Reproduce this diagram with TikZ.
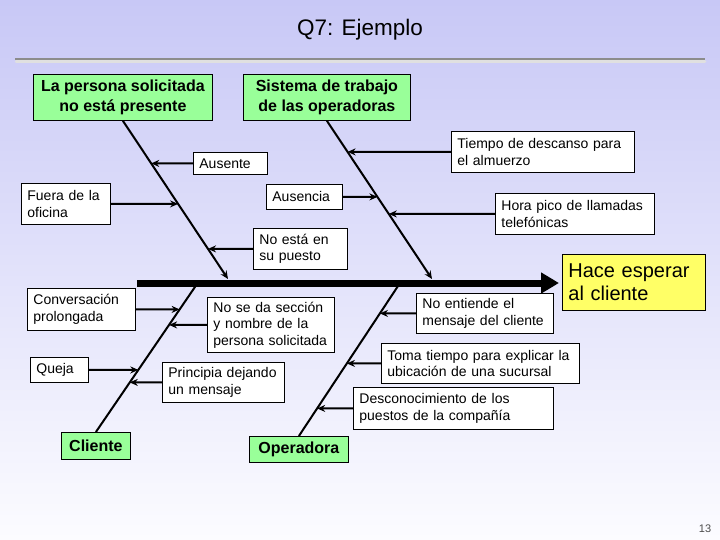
\documentclass[tikz,border=0pt]{standalone}
\usepackage{fontspec}
\setmainfont{Liberation Sans}
\usetikzlibrary{arrows.meta,calc}
\definecolor{bgtop}{RGB}{200,200,246}
\definecolor{bgbot}{RGB}{252,252,255}
\definecolor{cgreen}{RGB}{153,255,153}
\definecolor{cyellow}{RGB}{255,255,102}
\tikzset{
  subbox/.style={draw, fill=white, line width=0.8pt, align=left, inner xsep=6pt, inner ysep=0pt,
    anchor=north west, font=\fontsize{14}{16.5}\selectfont},
  catbox/.style={draw, fill=cgreen, line width=0.8pt, align=center, inner sep=0pt,
    anchor=north west, font=\bfseries\fontsize{16}{20}\selectfont},
  bone/.style={line width=2pt},
  bonearr/.style={line width=2pt, -{Stealth[length=8pt,width=7pt]}},
  sarr/.style={line width=2pt, -{Stealth[length=8pt,width=7pt]}},
}
\newcommand{\subnode}[6]{% name, x, y, w, h, text
  \node[subbox, text width=#4pt-12pt, minimum width=#4pt, minimum height=#5pt] (#1) at (#2,#3) {#6};}
\begin{document}
\begin{tikzpicture}[x=1pt,y=-1pt]
\useasboundingbox (0,0) rectangle (720,540);
\shade[top color=bgtop, bottom color=bgbot] (0,0) rectangle (720,540);
% title and rule
\node[font=\fontsize{22.5}{26}\selectfont] (title) at (360,30) {Q7: Ejemplo};
\draw[line width=2.5pt, color=black!12, line cap=round] (16,61.5) -- (705,61.5);
\draw[line width=2.5pt, color=black!45] (15,59) -- (705,59);

% category boxes
\node[catbox, minimum width=179pt, minimum height=46pt] (cat1) at (33,74) {La persona solicitada\\no está presente};
\node[catbox, minimum width=167pt, minimum height=46pt] (cat2) at (243,74) {Sistema de trabajo\\de las operadoras};
\node[catbox, minimum width=69pt, minimum height=27pt] (cat3) at (61,432) {Cliente};
\node[catbox, minimum width=99pt, minimum height=26pt] (cat4) at (249,436) {Operadora};

% effect
\node[draw, fill=cyellow, line width=0.8pt, anchor=north west, minimum width=143pt, minimum height=56pt,
  text width=131pt, inner xsep=6pt, inner ysep=0pt, align=left, font=\fontsize{20}{23}\selectfont]
  (effect) at (562,254) {Hace esperar\\al cliente};

% spine
\coordinate (spL) at (137,283);
\coordinate (spR) at (559,283);
\draw[line width=7pt, -{Triangle[length=18pt,width=20pt]}] (spL) -- (spR);

% bones
\coordinate (b1b) at (228,279);
\coordinate (b2b) at (432,279);
\coordinate (b3b) at (197,284);
\coordinate (b4b) at (400,283);
\draw[bonearr] (cat1.south) -- (b1b);
\draw[bonearr] (cat2.south) -- (b2b);
\draw[bone] (cat3.north) -- (b3b);
\draw[bone] (cat4.north) -- (b4b);

% sub-causes
\subnode{aus}{193}{152}{74}{22}{Ausente}
\subnode{fuera}{21}{183}{89}{41}{Fuera de la\\oficina}
\subnode{noesta}{253}{228}{94}{41}{No está en\\su puesto}
\subnode{ausencia}{266}{184}{76}{25}{Ausencia}
\subnode{tiempo}{451}{131}{183}{41}{Tiempo de descanso para\\el almuerzo}
\subnode{hora}{495}{193}{159}{41}{Hora pico de llamadas\\telefónicas}
\subnode{conv}{27}{288}{108}{42}{Conversación\\prolongada}
\subnode{nosd}{207}{297}{127}{55}{No se da sección\\y nombre de la\\persona solicitada}
\subnode{queja}{30}{357}{58}{25}{Queja}
\subnode{princ}{162}{362}{122}{40}{Principia dejando\\un mensaje}
\subnode{noent}{416}{293}{137}{40}{No entiende el\\mensaje del cliente}
\subnode{toma}{381}{343}{198}{40}{Toma tiempo para explicar la\\ubicación de una sucursal}
\subnode{desc}{353}{387}{200}{42}{Desconocimiento de los\\puestos de la compañía}

% arrows to bones
\draw[sarr] (aus.west) -- (intersection of cat1.south--b1b and aus.west--aus.east);
\draw[sarr] (fuera.east) -- (intersection of cat1.south--b1b and fuera.west--fuera.east);
\draw[sarr] (noesta.west) -- (intersection of cat1.south--b1b and noesta.west--noesta.east);
\draw[sarr] (ausencia.east) -- (intersection of cat2.south--b2b and ausencia.west--ausencia.east);
\draw[sarr] (tiempo.west) -- (intersection of cat2.south--b2b and tiempo.west--tiempo.east);
\draw[sarr] (hora.west) -- (intersection of cat2.south--b2b and hora.west--hora.east);
\draw[sarr] (conv.east) -- (intersection of cat3.north--b3b and conv.west--conv.east);
\draw[sarr] (nosd.west) -- (intersection of cat3.north--b3b and nosd.west--nosd.east);
\draw[sarr] (queja.east) -- (intersection of cat3.north--b3b and queja.west--queja.east);
\draw[sarr] (princ.west) -- (intersection of cat3.north--b3b and princ.west--princ.east);
\draw[sarr] (noent.west) -- (intersection of cat4.north--b4b and noent.west--noent.east);
\draw[sarr] (toma.west) -- (intersection of cat4.north--b4b and toma.west--toma.east);
\draw[sarr] (desc.west) -- (intersection of cat4.north--b4b and desc.west--desc.east);

% page number
\node[font=\fontsize{11}{13}\selectfont, text=black!70] (pnum) at (705,529) {13};
\end{tikzpicture}
\end{document}
